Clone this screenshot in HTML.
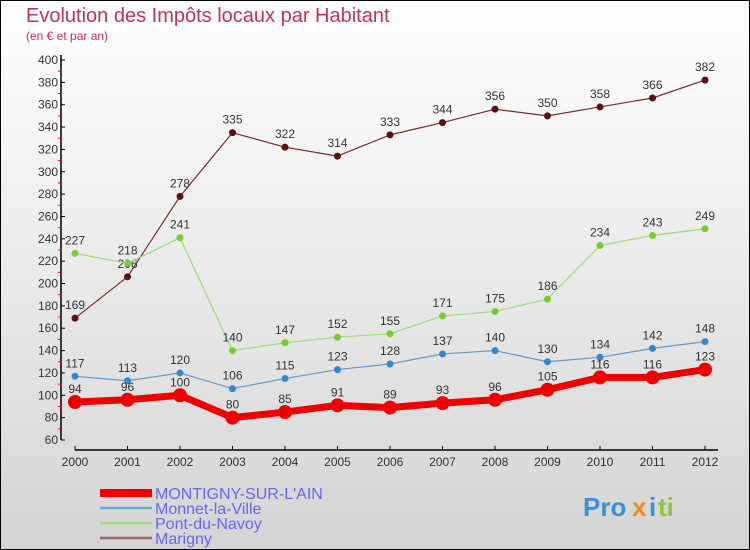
<!DOCTYPE html>
<html><head><meta charset="utf-8">
<style>
body{margin:0;padding:0;}
#c{width:750px;height:550px;position:relative;overflow:hidden;font-family:"Liberation Sans",sans-serif;}
</style></head>
<body>
<div id="c">
<svg id="s" width="750" height="550" xmlns="http://www.w3.org/2000/svg">
<defs>
<linearGradient id="bg" x1="0" y1="0" x2="0" y2="1">
<stop offset="0" stop-color="#ffffff"/><stop offset="1" stop-color="#d4d4d4"/>
</linearGradient>
</defs>
<rect x="0.5" y="0.5" width="749" height="549" fill="url(#bg)" stroke="#000"/>
<text x="26" y="22" font-size="20" fill="#c0325e">Evolution des Impôts locaux par Habitant</text>
<text x="26" y="40" font-size="12" fill="#c0325e">(en € et par an)</text>
<g id="axes"></g>
<g id="series"></g>
<g id="legend"></g>
<g font-size="26" font-weight="bold">
<text x="583" y="516" fill="#3a8fd8">Pro</text>
<text x="632" y="516" fill="#f08a1c">x</text>
<text x="649" y="516" fill="#3a8fd8">i</text>
<text x="658" y="516" fill="#8cc63f">ti</text>
</g>
</svg>
</div>
<script>
const years=["2000","2001","2002","2003","2004","2005","2006","2007","2008","2009","2010","2011","2012"];
const montigny=[94,96,100,80,85,91,89,93,96,105,116,116,123];
const monnet=[117,113,120,106,115,123,128,137,140,130,134,142,148];
const pont=[227,218,241,140,147,152,155,171,175,186,234,243,249];
const marigny=[169,206,278,335,322,314,333,344,356,350,358,366,382];
const yTicks=[60,80,100,120,140,160,180,200,220,240,260,280,300,320,340,360,380,400];
const seriesNames=["MONTIGNY-SUR-L'AIN","Monnet-la-Ville","Pont-du-Navoy","Marigny"];

const NS="http://www.w3.org/2000/svg";
const X=i=>75+i*52.5;
const Y=v=>440-(v-60)*380/340;
function mk(tag,attrs,parent){const e=document.createElementNS(NS,tag);for(const k in attrs)e.setAttribute(k,attrs[k]);parent.appendChild(e);return e;}
const ax=document.getElementById('axes');
let yl=mk('line',{x1:61,y1:Y(400)-5,x2:61,y2:Y(60),stroke:'#000','stroke-width':1.5},ax);


yTicks.forEach((v,i)=>{
  mk('line',{x1:61,y1:Y(v),x2:65,y2:Y(v),stroke:'#000'},ax);
  if(i<yTicks.length-1){mk('line',{x1:58,y1:Y(v+10),x2:61,y2:Y(v+10),stroke:'#f00'},ax);}
  const t=mk('text',{x:58,y:Y(v)+4,'font-size':12,fill:'#333','text-anchor':'end'},ax);
  t.textContent=v;
  
  
});
let xl=mk('line',{x1:75,y1:450,x2:718,y2:450,stroke:'#000','stroke-width':1.5},ax);


years.forEach((y,i)=>{
  mk('line',{x1:X(i),y1:446,x2:X(i),y2:450,stroke:'#000'},ax);
  const t=mk('text',{x:X(i),y:466,'font-size':12,fill:'#333','text-anchor':'middle'},ax);
  t.textContent=y;
  
  
});
const sg=document.getElementById('series');
function draw(vals,color,dot,w,r,name){
  const g=mk('g',{},sg);
  
  
  const p=vals.map((v,i)=>X(i)+','+Y(v)).join(' ');
  mk('polyline',{points:p,fill:'none',stroke:color,'stroke-width':w,'stroke-linejoin':'round'},g);
  vals.forEach((v,i)=>{
    const c=mk('circle',{cx:X(i),cy:Y(v),r:r,fill:dot},g);
    
    
    const t=mk('text',{x:X(i),y:Y(v)-9,'font-size':12,fill:'#333','text-anchor':'middle'},g);
    t.textContent=v;
    
    
  });
}
draw(marigny,'#7a2a2a','#5a1010',1.2,3.5,'series-marigny');
draw(pont,'#99dd77','#77cc33',1.2,3.5,'series-pont-du-navoy');
draw(monnet,'#6699cc','#3388cc',1.2,3.5,'series-monnet-la-ville');
draw(montigny,'#ee0000','#ee0000',7,7,'series-montigny');
const lg=document.getElementById('legend');
const lc=['#ee0000','#6aa6d0','#99dd77','#996666'];
const lw=[8,2.5,2.5,2.5];
seriesNames.forEach((n,i)=>{
  const g=mk('g',{},lg);
  
  
  const y=493+i*15;
  mk('line',{x1:100,y1:y,x2:152,y2:y,stroke:lc[i],'stroke-width':lw[i]},g);
  const t=mk('text',{x:155,y:y+6,'font-size':16,fill:'#6666ee'},g);
  t.textContent=n;
});
</script>
</body></html>
